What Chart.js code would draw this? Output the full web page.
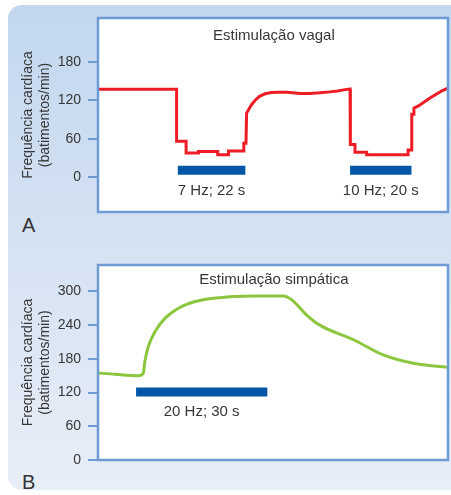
<!DOCTYPE html>
<html>
<head>
<meta charset="utf-8">
<script src="https://cdn.jsdelivr.net/npm/chart.js@4.4.1/dist/chart.umd.min.js"></script>
<style>
body{margin:0;width:451px;height:495px;overflow:hidden;background:#fff;position:relative;font-family:"Liberation Sans",Arial,sans-serif}
#bg{position:absolute;left:8px;top:5px;width:470px;height:485px;border-radius:14px;background:linear-gradient(#c2d7ee,#e8eef7)}
canvas{position:absolute;left:0}
#chartA{top:0}
#chartB{top:240px}
.tag{position:absolute;font-size:20px;color:#333;line-height:23px}
</style>
</head>
<body>
<div id="bg"></div>
<div class="tag" style="left:22px;top:214px">A</div>
<div class="tag" style="left:22px;top:471px">B</div>
<canvas id="chartA" width="451" height="240"></canvas>
<canvas id="chartB" width="451" height="255"></canvas>
<script>
// painel A - estimulação vagal (tempo em s, frequência em bpm)
const vagalTime = [0, 25.6, 25.6, 28.7, 28.7, 32.7, 32.7, 39, 39, 42.5, 42.5, 47.5, 47.5, 48.2, 48.4,
  50, 51.2, 52.6, 54.4, 56.5, 58.7, 61.6, 65.8, 69, 72.3, 75.5, 78, 80.5, 82.1,
  82.2, 83.7, 83.7, 87.5, 87.5, 101, 101, 102.2, 102.2, 102.9, 102.9, 104.5, 106, 108, 110, 112, 114];
const vagalRate = [137, 137, 56, 56, 38, 38, 40, 40, 35, 35, 41, 41, 53, 53, 100,
  113, 120, 126, 130, 132, 132.5, 132.5, 130.5, 130.5, 131.5, 133, 134.5, 136.5, 137.6,
  51, 51, 39, 39, 35, 35, 42.5, 42.5, 98, 98, 107.5, 111.5, 116.5, 123, 129, 134.5, 139];
const vagalStimStart = [26, 82.1];
const vagalStimDur = [22, 20];
const vagalStimLabels = ['7 Hz; 22 s', '10 Hz; 20 s'];
const vagalTicks = [0, 60, 120, 180];

// painel B - estimulação simpática
const simpTime = [0, 3.9, 9.2, 10.35, 10.7, 11.5, 13, 15.3, 18.4, 22.2, 26.4, 35.5, 42.4, 44.3, 47.7, 50.7, 58.4, 65.2, 72.1, 80];
const simpRate = [155, 152.5, 150, 154, 175, 202, 228, 252, 270, 282, 288, 292, 292, 285, 258, 240, 214, 187, 172, 165];
const simpStimStart = [8.7];
const simpStimDur = [30];
const simpStimLabels = ['20 Hz; 30 s'];
const simpTicks = [0, 60, 120, 180, 240, 300];

const yTitle = ['Frequência cardíaca', '(batimentos/min)'];
const frameColor = '#6f9bd4';
const textColor = '#363636';
const barBlue = '#0357a6';

Chart.defaults.font.family = '"Liberation Sans", Arial, sans-serif';

function frame(title, titleX, titleY, labelY, starts, durs, labels) {
  return {
    id: 'frame',
    beforeDraw(c) {
      const a = c.chartArea, ctx = c.ctx;
      ctx.save();
      ctx.fillStyle = '#fff';
      ctx.fillRect(a.left, a.top, a.width, a.height);
      ctx.restore();
    },
    afterDraw(c) {
      const a = c.chartArea, ctx = c.ctx, x = c.scales.x, y = c.scales.y;
      ctx.save();
      ctx.strokeStyle = frameColor;
      ctx.lineWidth = 2.5;
      ctx.strokeRect(a.left, a.top, a.width, a.height);
      ctx.fillStyle = textColor;
      ctx.font = '15px "Liberation Sans", Arial, sans-serif';
      ctx.textAlign = 'center';
      ctx.textBaseline = 'middle';
      ctx.fillText(title, x.getPixelForValue(titleX), y.getPixelForValue(titleY));
      labels.forEach((t, i) => {
        ctx.fillText(t, x.getPixelForValue(starts[i] + durs[i] / 2), y.getPixelForValue(labelY));
      });
      ctx.restore();
    }
  };
}

function makeChart(id, times, rates, color, smooth, starts, durs, stimY, xMax, yMin, yMax, ticks, pad, plugin) {
  const datasets = [{
    data: times.map((t, i) => ({x: t, y: rates[i]})),
    borderColor: color,
    borderWidth: 3,
    pointRadius: 0,
    tension: smooth ? 0.4 : 0,
    cubicInterpolationMode: smooth ? 'monotone' : 'default'
  }];
  starts.forEach((s, i) => {
    datasets.push({
      data: [{x: s, y: stimY}, {x: s + durs[i], y: stimY}],
      borderColor: barBlue,
      borderWidth: 9,
      borderCapStyle: 'butt',
      pointRadius: 0
    });
  });
  return new Chart(document.getElementById(id), {
    type: 'line',
    data: {datasets},
    options: {
      responsive: false,
      animation: false,
      layout: {padding: pad},
      plugins: {legend: {display: false}, tooltip: {enabled: false}},
      scales: {
        x: {type: 'linear', min: 0, max: xMax, display: false},
        y: {
          min: yMin, max: yMax,
          afterBuildTicks: s => { s.ticks = ticks.map(v => ({value: v})); },
          afterFit: s => { s.width = 98; },
          grid: {drawOnChartArea: false, drawTicks: true, tickLength: 10, color: frameColor, lineWidth: 2},
          border: {display: false},
          ticks: {padding: 7, color: textColor, font: {size: 14}},
          title: {display: true, text: yTitle, color: textColor, font: {size: 14}, padding: {top: 20, bottom: 0}}
        }
      }
    },
    plugins: [plugin]
  });
}

makeChart('chartA', vagalTime, vagalRate, '#ee1c25', false, vagalStimStart, vagalStimDur, 11, 114, -54, 248, vagalTicks,
  {top: 18, bottom: 28, right: 3, left: 0},
  frame('Estimulação vagal', 57.3, 220, -21, vagalStimStart, vagalStimDur, vagalStimLabels));

makeChart('chartB', simpTime, simpRate, '#8cc63f', true, simpStimStart, simpStimDur, 121, 80, 0, 347, simpTicks,
  {top: 25, bottom: 35, right: 3, left: 0},
  frame('Estimulação simpática', 40.2, 320, 86, simpStimStart, simpStimDur, simpStimLabels));
</script>
</body>
</html>
